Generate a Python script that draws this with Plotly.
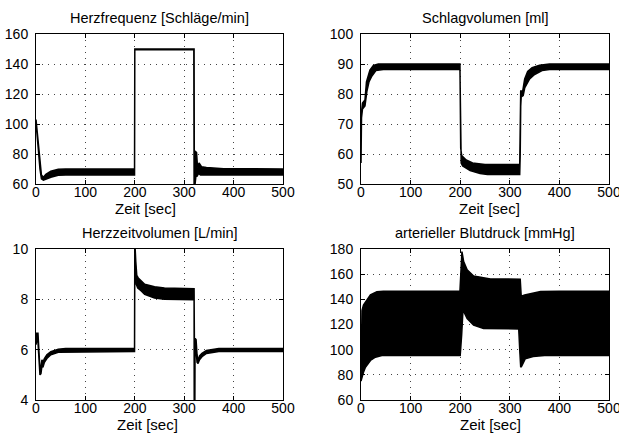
import plotly.graph_objects as go
from plotly.subplots import make_subplots

# ---------------- data (envelopes of the oscillating signals) -------------
# Herzfrequenz [Schläge/min]
hr_t_up = [0, 2, 5, 8, 11, 15, 20, 30, 45, 60, 199.5, 200, 320, 320.5, 322, 325, 327, 330, 335, 345, 380, 500]
hr_up   = [103, 96, 88, 75, 66, 64.5, 66.5, 68.5, 69.8, 70, 70, 150, 150, 60, 82, 81, 71, 74, 71.5, 71, 70.2, 70]
hr_t_lo = [0, 2, 5, 8, 11, 15, 20, 30, 45, 60, 199.5, 200, 319.5, 320, 322, 324, 326, 329, 333, 340, 360, 500]
hr_lo   = [101, 92, 82, 70, 63.5, 62.5, 63, 64.5, 65.8, 66, 66, 149.5, 149.5, 60, 60, 66, 65, 67, 66, 66, 66, 66]

# Schlagvolumen [ml]
sv_t_up = [0, 1, 3, 8, 11, 14, 18, 25, 35, 60, 199.5, 201, 203, 206, 212, 225, 250, 320, 320.8, 322, 326, 330, 336, 345, 360, 380, 500]
sv_up   = [60, 74, 77, 78, 84, 86, 88, 89.5, 90, 90, 90, 62, 59.5, 59, 58, 57, 56.5, 56.5, 78, 81, 81, 85, 87.5, 88.8, 89.6, 90, 90]
sv_t_lo = [0, 1, 3, 8, 12, 16, 22, 30, 45, 199.5, 200.5, 202, 205, 210, 220, 240, 255, 320, 321, 322, 323, 327, 330, 340, 350, 365, 380, 500]
sv_lo   = [57, 72, 75, 76, 81, 84, 86, 87.8, 88.2, 88.2, 70, 57, 56, 55.5, 54.5, 53.5, 53.2, 53.2, 60, 76, 79, 79.5, 82, 85, 86.5, 87.8, 88.2, 88.2]

# Herzzeitvolumen [L/min]
co_t_up = [0, 1, 4, 6, 8, 10, 12, 14, 17, 22, 30, 45, 60, 199.5, 200, 202, 204, 207, 212, 220, 240, 260, 320, 320.3, 321.5, 322, 324, 326, 328, 331, 336, 345, 370, 500]
co_up   = [6.4, 6.65, 6.65, 6.0, 5.2, 5.3, 5.6, 5.5, 5.65, 5.8, 5.92, 6.02, 6.05, 6.05, 10.3, 9.5, 8.95, 8.85, 8.75, 8.6, 8.5, 8.45, 8.42, 3.5, 3.5, 6.45, 6.4, 5.8, 5.55, 5.75, 5.85, 5.97, 6.05, 6.05]
co_t_lo = [0, 2, 4, 6, 8, 10, 12, 14, 17, 22, 30, 45, 60, 199.5, 200, 203, 206, 212, 220, 240, 260, 320, 320.3, 321.5, 322, 324, 326, 328, 331, 336, 345, 370, 500]
co_lo   = [6.2, 6.4, 6.3, 5.7, 5.0, 5.05, 5.35, 5.3, 5.5, 5.65, 5.8, 5.9, 5.93, 5.93, 9.9, 8.6, 8.45, 8.35, 8.2, 8.05, 8.0, 7.98, 3.5, 3.5, 6.2, 6.0, 5.5, 5.45, 5.6, 5.72, 5.85, 5.93, 5.93]

# arterieller Blutdruck [mmHg]
bp_t_up = [0, 0.5, 2, 5, 12, 19, 32, 45, 199.5, 201.5, 203.5, 207, 214, 227, 245, 261, 321, 323, 330, 345, 362, 400, 500]
bp_up   = [75, 129, 131, 135.5, 139.5, 143.5, 146, 146.5, 146.5, 170, 178, 170, 163.5, 158.5, 157, 156.2, 156, 142.5, 143.5, 145, 146.3, 146.5, 146.5]
bp_t_lo = [0, 2, 5, 9, 19, 29, 42, 200, 203, 205.6, 214, 227, 247, 318, 320, 322, 324, 331, 347, 370, 500]
bp_lo   = [75, 76.5, 82, 86, 91.4, 94, 95.4, 95.4, 112, 131.5, 124.8, 119.5, 116.8, 116.5, 100, 86, 87, 92.7, 94.6, 95.4, 95.4]

panels = [
    ("Herzfrequenz [Schläge/min]", hr_t_up, hr_up, hr_t_lo, hr_lo, [60, 160], [60, 80, 100, 120, 140, 160]),
    ("Schlagvolumen [ml]", sv_t_up, sv_up, sv_t_lo, sv_lo, [50, 100], [50, 60, 70, 80, 90, 100]),
    ("Herzzeitvolumen [L/min]", co_t_up, co_up, co_t_lo, co_lo, [4, 10], [4, 6, 8, 10]),
    ("arterieller Blutdruck [mmHg]", bp_t_up, bp_up, bp_t_lo, bp_lo, [60, 180], [60, 80, 100, 120, 140, 160, 180]),
]
x_ticks = [0, 100, 200, 300, 400, 500]
x_label = "Zeit [sec]"

# ---------------- figure ----------------
W, H = 619, 436
fig = make_subplots(rows=2, cols=2)

# plot-area boxes in pixels (left, right, top, bottom)
boxes = [(36, 283, 34, 184), (361, 609, 34, 184), (36, 283, 249, 400), (361, 609, 249, 400)]
xlabel_cx = [145, 489, 147, 490]
xlabel_dy = [24, 24, 24, 24]
xlabel_fs = [15, 15, 15, 15]

FONT = "Liberation Sans, Arial, Helvetica, sans-serif"

for i, (title, tu, yu, tl, yl, yr, yt) in enumerate(panels):
    r, c = i // 2 + 1, i % 2 + 1
    xs = list(tu) + list(tl)[::-1]
    ys = list(yu) + list(yl)[::-1]
    fig.add_trace(go.Scatter(x=xs, y=ys, mode="lines", fill="toself",
                             fillcolor="black", line=dict(color="black", width=1.5),
                             hoverinfo="skip", showlegend=False), row=r, col=c)
    L, R, T, B = boxes[i]
    common = dict(showline=True, linecolor="black", linewidth=1, mirror="ticks",
                  ticks="inside", ticklen=4, tickcolor="black", automargin=False,
                  ticklabeloverflow="allow",
                  showgrid=True, gridcolor="#444", gridwidth=1, griddash="1px,5px",
                  zeroline=False, tickfont=dict(family=FONT, size=14, color="black"))
    fig.update_xaxes(range=[0, 500], tickvals=x_ticks, domain=[L / W, R / W],
                     ticklabelstandoff=-5, **common, row=r, col=c)
    fig.update_yaxes(range=yr, tickvals=yt, domain=[1 - B / H, 1 - T / H],
                     ticklabelstandoff=4, **common, row=r, col=c)
    fig.add_annotation(text=title, x=(L + R) / 2 / W, y=1 - (T - 16) / H, xref="paper", yref="paper",
                       showarrow=False, font=dict(family=FONT, size=14.5, color="black"),
                       xanchor="center", yanchor="middle")
    fig.add_annotation(text=x_label, x=xlabel_cx[i] / W, y=1 - (B + xlabel_dy[i]) / H,
                       xref="paper", yref="paper",
                       showarrow=False, font=dict(family=FONT, size=xlabel_fs[i], color="black"),
                       xanchor="center", yanchor="middle")

fig.update_layout(width=W, height=H, margin=dict(l=0, r=0, t=0, b=0, autoexpand=False),
                  paper_bgcolor="white", plot_bgcolor="white",
                  font=dict(family=FONT, size=14, color="black"), showlegend=False)

fig.write_html("out.html", config={"displayModeBar": False},
               post_script="document.body.style.margin='0';document.body.style.overflow='hidden';")
